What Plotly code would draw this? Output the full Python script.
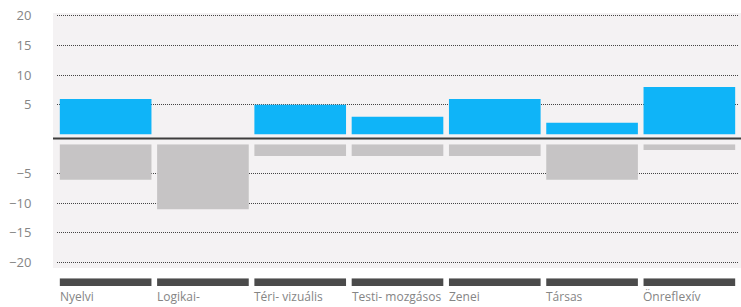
import plotly.graph_objects as go
from plotly.subplots import make_subplots

categories = ["Nyelvi", "Logikai-matematikai", "Téri- vizuális", "Testi- mozgásos", "Zenei", "Társas", "Önreflexív"]
label_text = ["Nyelvi", "Logikai-<br>matematikai", "Téri- vizuális", "Testi- mozgásos", "Zenei", "Társas", "Önreflexív"]
positive = [6, 0, 5, 3, 6, 2, 8]
negative = [-6, -11, -2, -2, -2, -6, -1]
strip = [1, 1, 1, 1, 1, 1, 1]
pos_ticks = [5, 10, 15, 20]
neg_ticks = [-5, -10, -15, -20]

W, H = 741, 307
ML, MR, MT, MB = 57, 3, 13, 21
PH = H - MT - MB
PW = W - ML - MR

def fy(px):
    return 1 - (px - MT) / PH

def fx(px):
    return (px - ML) / PW

fig = make_subplots(rows=3, cols=1, shared_xaxes=True, vertical_spacing=0)

fig.add_trace(go.Bar(x=categories, y=positive, marker=dict(color="#0fb4f8", line=dict(width=0))), row=1, col=1)
fig.add_trace(go.Bar(x=categories, y=negative, marker=dict(color="#c6c4c5", line=dict(width=0))), row=2, col=1)
fig.add_trace(go.Bar(x=categories, y=strip, marker=dict(color="#4b4b4b", line=dict(width=0))), row=3, col=1)

tickfont = dict(family="Open Sans", size=13, color="#858585")
grid = dict(showgrid=True, gridcolor="#444444", gridwidth=1, griddash="1px,1px", zeroline=False,
            ticks="outside", ticklen=22, tickcolor="rgba(0,0,0,0)", tickfont=tickfont, showline=False)

fig.update_layout(
    width=W, height=H,
    margin=dict(l=ML, r=MR, t=MT, b=MB),
    paper_bgcolor="white",
    plot_bgcolor="rgba(0,0,0,0)",
    showlegend=False,
    bargap=0.058,
    yaxis=dict(domain=[fy(134.5), 1], range=[0, (134.5 - MT) / 5.933], tickvals=pos_ticks, **grid),
    yaxis2=dict(domain=[fy(268), fy(144.2)], range=[-(268 - 144.2) / 5.905, 0], tickvals=neg_ticks, **grid),
    yaxis3=dict(domain=[0, fy(278.3)], range=[0, 1], showgrid=False, zeroline=False, showticklabels=False),
    xaxis=dict(showticklabels=False, showgrid=False, zeroline=False),
    xaxis2=dict(showticklabels=False, showgrid=False, zeroline=False),
    xaxis3=dict(showticklabels=False, showgrid=False, zeroline=False),
)

fig.add_shape(type="rect", xref="paper", yref="paper", x0=fx(53), x1=fx(741), y0=fy(268), y1=1,
              fillcolor="#f4f2f3", line=dict(width=0), layer="below")
fig.add_shape(type="line", xref="paper", yref="paper", x0=fx(53), x1=fx(741), y0=fy(138.5), y1=fy(138.5),
              line=dict(color="#3d3d3d", width=2))

for cat, txt in zip(categories, label_text):
    fig.add_annotation(x=cat, xref="x3", y=0, yref="paper", text=txt, showarrow=False,
                       xanchor="left", yanchor="top", xshift=-48, yshift=0, align="left",
                       font=dict(family="Open Sans", size=12, color="#858585"))

fig.write_html("out.html", config={"displayModeBar": False},
               post_script="document.body.style.margin='0';document.body.style.overflow='hidden';")
